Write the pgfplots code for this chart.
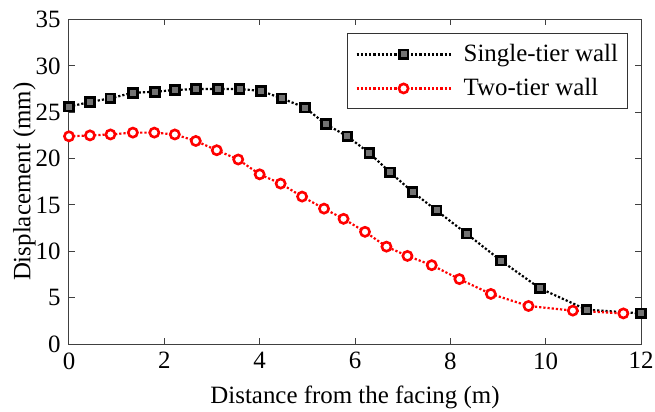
\documentclass[border=0pt]{standalone}
\usepackage{fontspec}
\setmainfont{Liberation Serif}
\usepackage{pgfplots}
\pgfplotsset{compat=1.18}
\begin{document}
\fontsize{25}{29}\selectfont
\begin{tikzpicture}
\begin{axis}[
  scale only axis,
  width=572bp, height=324.5bp,
  xmin=0, xmax=12, ymin=0, ymax=35,
  xtick={0,2,4,6,8,10,12}, ytick={0,5,10,15,20,25,30,35},
  xticklabels={\textrm{0},\textrm{2},\textrm{4},\textrm{6},\textrm{8},\textrm{10},\textrm{12}},
  yticklabels={\textrm{0},\textrm{5},\textrm{10},\textrm{15},\textrm{20},\textrm{25},\textrm{30},\textrm{35}},
  tick align=inside, tickwidth=6bp,
  axis line style={black!75, line width=1bp},
  every tick/.style={black!75, line width=1bp},
  tick label style={font=\fontsize{25}{29}\selectfont},
  label style={font=\fontsize{25}{29}\selectfont},
  xlabel={Distance from the facing (m)},
  ylabel={Displacement (mm)},
  xlabel style={yshift=0bp},
  ylabel style={yshift=-17bp},
  legend style={at={(rel axis cs:0.978,0.957)}, anchor=north east, draw=black!80, line width=1bp,
    font=\fontsize{25}{29}\selectfont, inner xsep=8bp, inner ysep=8bp, row sep=9bp,
    /tikz/every odd column/.append style={column sep=10bp}},
  legend cell align=left,
  legend image code/.code={\draw[mark repeat=2,mark phase=2] plot coordinates {(0bp,0bp)(47bp,0bp)(94bp,0bp)};},
]
\addplot[black, dotted, line width=2.2bp, mark=square*, mark size=4.4bp,
  mark options={solid, fill=black!55, draw=black, line width=2.8bp}]
coordinates {
(0,25.6)(0.44,26.1)(0.87,26.5)(1.34,27.1)(1.80,27.2)(2.22,27.4)(2.66,27.5)(3.13,27.5)
(3.58,27.5)(4.03,27.3)(4.46,26.5)(4.95,25.5)(5.39,23.7)(5.84,22.4)(6.30,20.6)(6.74,18.5)
(7.21,16.4)(7.71,14.4)(8.34,11.9)(9.06,9.0)(9.88,6.0)(10.86,3.7)(12.0,3.3)
};
\addlegendentry{Single-tier wall}
\addplot[red, dotted, line width=2.2bp, mark=*, mark size=4.6bp,
  mark options={solid, fill=white, draw=red, line width=2.6bp}]
coordinates {
(0,22.4)(0.44,22.5)(0.87,22.6)(1.34,22.8)(1.79,22.8)(2.22,22.6)(2.66,21.9)(3.10,20.9)
(3.55,19.9)(4.0,18.3)(4.44,17.3)(4.89,15.9)(5.35,14.6)(5.76,13.5)(6.21,12.1)(6.66,10.5)
(7.10,9.5)(7.61,8.5)(8.19,7.0)(8.85,5.4)(9.64,4.1)(10.57,3.6)(11.63,3.3)
};
\addlegendentry{Two-tier wall}
\end{axis}
\pgfresetboundingbox
\path[use as bounding box] (-69bp,-68bp) rectangle (586bp,344bp);
\end{tikzpicture}
\end{document}
